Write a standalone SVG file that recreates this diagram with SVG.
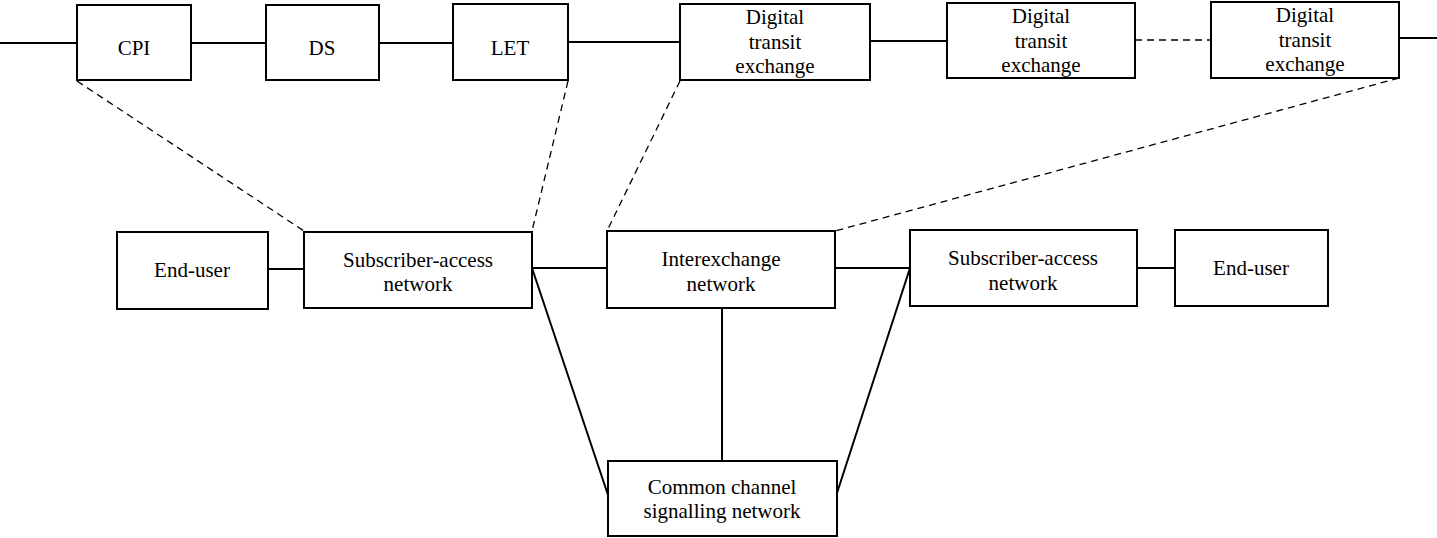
<svg xmlns="http://www.w3.org/2000/svg" width="1437" height="538" viewBox="0 0 1437 538">
<style>
.box{fill:#fff;stroke:#000;stroke-width:2}
.ln{stroke:#000;stroke-width:2;fill:none}
.dl{stroke:#000;stroke-width:1.3;fill:none;stroke-dasharray:7,5}
text{font-family:"Liberation Serif","Times New Roman",serif;font-size:21px;fill:#000;text-anchor:middle}
</style>
<g id="connectors">
<line class="ln" x1="0" y1="43" x2="77" y2="43"/>
<line class="ln" x1="191" y1="43" x2="266" y2="43"/>
<line class="ln" x1="379" y1="43" x2="453" y2="43"/>
<line class="ln" x1="568" y1="42" x2="680" y2="42"/>
<line class="ln" x1="870" y1="41" x2="947" y2="41"/>
<line class="dl" x1="1135" y1="40" x2="1211" y2="40"/>
<line class="ln" x1="1399" y1="38" x2="1437" y2="38"/>
<line class="dl" x1="77" y1="81" x2="304" y2="231"/>
<line class="dl" x1="568" y1="81" x2="532" y2="231"/>
<line class="dl" x1="680" y1="81" x2="607" y2="231"/>
<line class="dl" x1="1399" y1="78" x2="835" y2="231"/>
<line class="ln" x1="268" y1="269" x2="304" y2="269"/>
<line class="ln" x1="532" y1="268" x2="607" y2="268"/>
<line class="ln" x1="835" y1="268" x2="910" y2="268"/>
<line class="ln" x1="1137" y1="268" x2="1175" y2="268"/>
<line class="ln" x1="532" y1="268" x2="608" y2="495"/>
<line class="ln" x1="910" y1="268" x2="837" y2="493"/>
<line class="ln" x1="722" y1="308" x2="722" y2="461"/>
</g>
<g id="cpi"><rect class="box" x="77" y="5" width="114" height="75"/><text x="134" y="55">CPI</text></g>
<g id="ds"><rect class="box" x="266" y="5" width="113" height="75"/><text x="322" y="55">DS</text></g>
<g id="let"><rect class="box" x="453" y="4" width="115" height="76"/><text x="510" y="55">LET</text></g>
<g id="dte1"><rect class="box" x="680" y="4" width="190" height="76"/><text x="775" y="24">Digital</text><text x="775" y="49">transit</text><text x="775" y="73">exchange</text></g>
<g id="dte2"><rect class="box" x="947" y="3" width="188" height="75"/><text x="1041" y="23">Digital</text><text x="1041" y="48">transit</text><text x="1041" y="72">exchange</text></g>
<g id="dte3"><rect class="box" x="1211" y="2" width="188" height="76"/><text x="1305" y="22">Digital</text><text x="1305" y="47">transit</text><text x="1305" y="71">exchange</text></g>
<g id="eu1"><rect class="box" x="117" y="232" width="151" height="77"/><text x="192" y="277">End-user</text></g>
<g id="san1"><rect class="box" x="304" y="232" width="228" height="76"/><text x="418" y="267">Subscriber-access</text><text x="418" y="291">network</text></g>
<g id="ien"><rect class="box" x="607" y="231" width="228" height="77"/><text x="721" y="266">Interexchange</text><text x="721" y="291">network</text></g>
<g id="san2"><rect class="box" x="910" y="230" width="227" height="76"/><text x="1023" y="265">Subscriber-access</text><text x="1023" y="290">network</text></g>
<g id="eu2"><rect class="box" x="1175" y="230" width="153" height="76"/><text x="1251" y="275">End-user</text></g>
<g id="ccsn"><rect class="box" x="608" y="461" width="229" height="75"/><text x="722" y="494">Common channel</text><text x="722" y="518">signalling network</text></g>
</svg>
